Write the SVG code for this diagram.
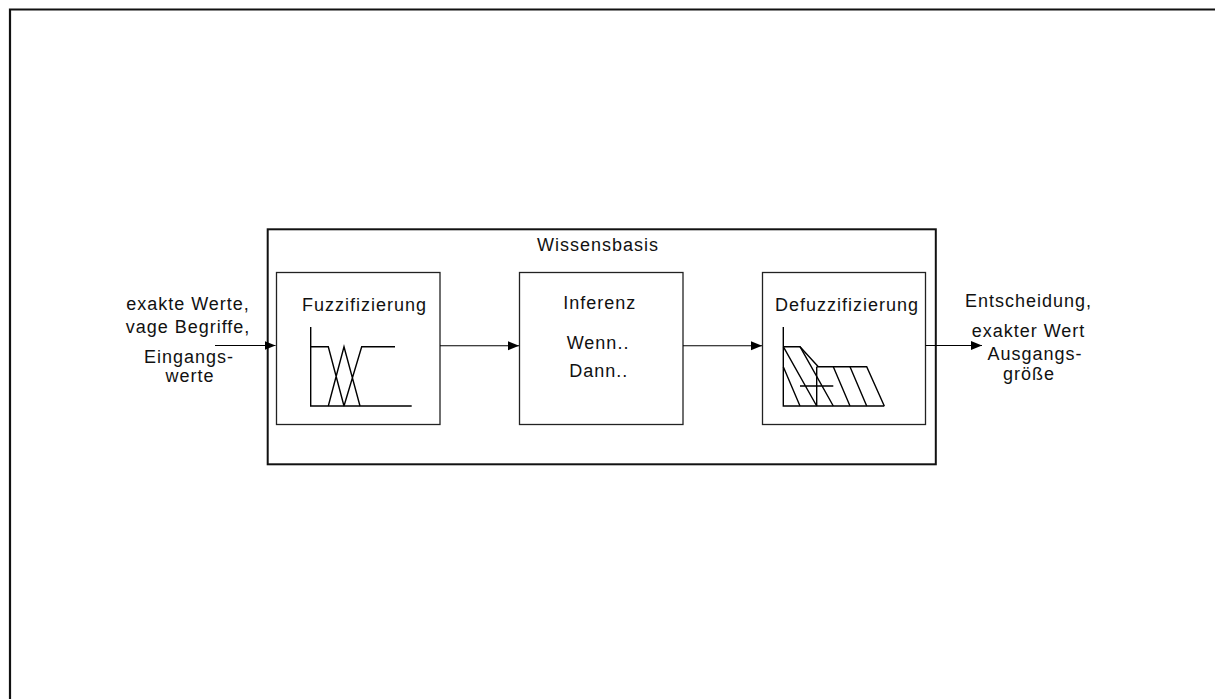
<svg xmlns="http://www.w3.org/2000/svg" width="1215" height="699" viewBox="0 0 1215 699">
<defs>
<marker id="arr" markerWidth="12" markerHeight="10" refX="11" refY="4.5" orient="auto" markerUnits="userSpaceOnUse">
<path d="M0,0 L11,4.5 L0,9 Z" fill="#000"/>
</marker>
<style>
.t{font-family:"Liberation Sans",Arial,sans-serif;font-size:18px;letter-spacing:1px;fill:#111}
.m{text-anchor:middle}
.box{fill:#fff;stroke:#222;stroke-width:1.3}
.ln{fill:none;stroke:#000;stroke-width:1.4}
.c{fill:none;stroke:#000;stroke-width:1.1}
</style>
</defs>
<rect width="1215" height="699" fill="#fff"/>
<path d="M10,700 V9.5 H1216" fill="none" stroke="#111" stroke-width="2.2"/>
<g id="wissensbasis">
<rect x="267.7" y="229.3" width="668.1" height="235" fill="none" stroke="#111" stroke-width="2"/>
<text class="t" x="537" y="250.7">Wissensbasis</text>
</g>
<g id="fuzzifizierung">
<rect class="box" x="276.5" y="272.5" width="163.5" height="152"/>
<text class="t" x="302" y="310.7">Fuzzifizierung</text>
<path class="ln" d="M310.7,327 V406 H411.7"/>
<path class="ln" d="M310.7,346.7 H328.3 L344,406 M328.3,406 L344,346.7 L360,406 M344,406 L361.7,346.7 H395"/>
</g>
<g id="inferenz">
<rect class="box" x="519.5" y="272.5" width="163.5" height="152"/>
<text class="t" x="563.3" y="309">Inferenz</text>
<text class="t" x="566.7" y="349">Wenn..</text>
<text class="t" x="569.3" y="376.7">Dann..</text>
</g>
<g id="defuzzifizierung">
<rect class="box" x="762.5" y="272.5" width="163" height="152"/>
<text class="t" x="775" y="310.7">Defuzzifizierung</text>
<path class="ln" d="M783.3,327 V406 H884.3"/>
<path class="ln" d="M783.3,346.7 H800 L818.3,366.7 M816.7,366.7 H866.7 L884.3,406 M816.7,366.7 V406"/>
<path class="ln" d="M783.3,366.7 L800,406 M783.3,346.7 L816.7,406 M800,346.7 L833.3,406 M833.3,366.7 L850,406 M850,366.7 L866.7,406 M800,386 H833.3"/>
</g>
<g id="eingang">
<text class="t m" x="188" y="310">exakte Werte,</text>
<text class="t m" x="188" y="333">vage Begriffe,</text>
<text class="t m" x="189" y="363.3">Eingangs-</text>
<text class="t m" x="190" y="382">werte</text>
</g>
<g id="ausgang">
<text class="t m" x="1028.5" y="306.7">Entscheidung,</text>
<text class="t m" x="1028.5" y="336.7">exakter Wert</text>
<text class="t m" x="1035" y="360">Ausgangs-</text>
<text class="t m" x="1029" y="380">größe</text>
</g>
<g id="connectors">
<line class="c" x1="215" y1="345.5" x2="275.5" y2="345.5" marker-end="url(#arr)"/>
<line class="c" x1="440" y1="345.7" x2="519" y2="345.7" marker-end="url(#arr)"/>
<line class="c" x1="683" y1="345.7" x2="762" y2="345.7" marker-end="url(#arr)"/>
<line class="c" x1="925.5" y1="345.5" x2="982" y2="345.5" marker-end="url(#arr)"/>
</g>
</svg>
